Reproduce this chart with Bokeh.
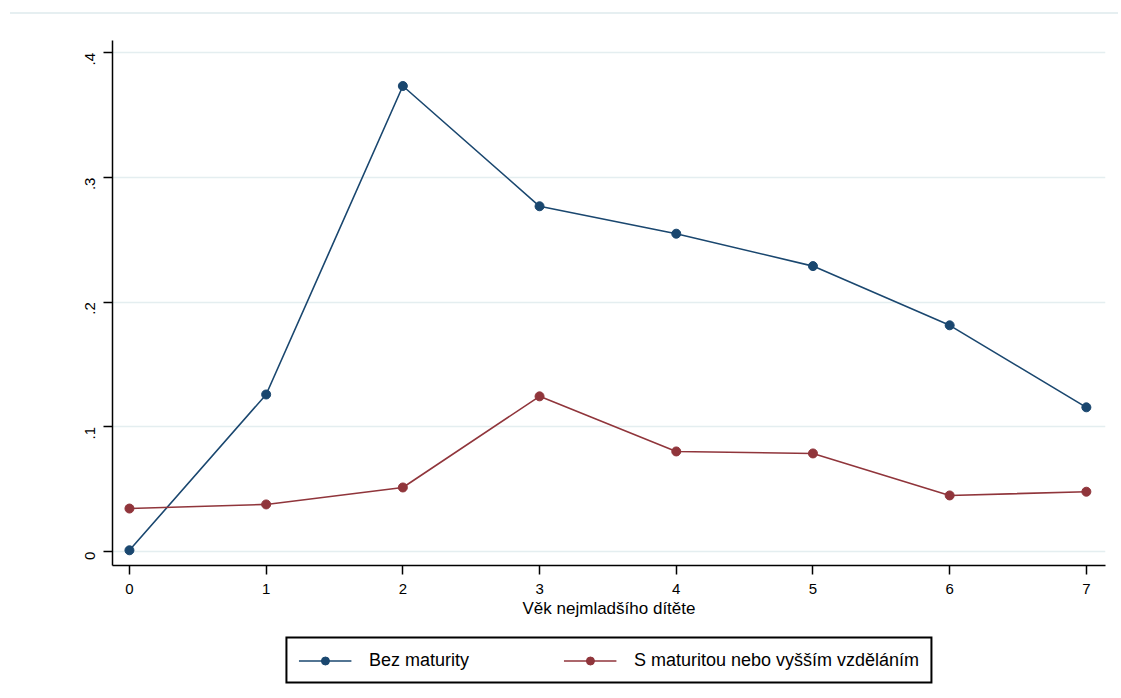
from bokeh.plotting import figure
from bokeh.layouts import column
from bokeh.models import Range1d, FixedTicker, Legend, LegendItem, CustomJSTickFormatter, Div
from bokeh.embed import file_html
from bokeh.resources import INLINE
import math

ages = [0, 1, 2, 3, 4, 5, 6, 7]
bez_maturity = [0.001, 0.126, 0.3735, 0.277, 0.255, 0.229, 0.1815, 0.1157]
s_maturitou = [0.0345, 0.0378, 0.0514, 0.1245, 0.0803, 0.0787, 0.045, 0.048]
y_ticks = [0, 0.1, 0.2, 0.3, 0.4]
x_label = "Věk nejmladšího dítěte"
series_names = ["Bez maturity", "S maturitou nebo vyšším vzděláním"]
colors = ["#1a476f", "#90353b"]

FONT = "Liberation Sans"
W = 1118

top_rule = Div(text="", width=1108, height=12, margin=(0, 0, 0, 10),
               styles={"border-bottom": "2px solid #e6eff1", "box-sizing": "content-box"})

p = figure(width=W, height=606, output_backend="svg", toolbar_location=None,
           x_range=Range1d(-0.124, 7.14), y_range=Range1d(-0.0112, 0.41),
           min_border_left=112, min_border_right=13, min_border_top=26, min_border_bottom=55)
p.outline_line_color = None
p.background_fill_color = "white"
p.border_fill_color = "white"

p.xgrid.grid_line_color = None
p.ygrid.grid_line_color = "#e4eef0"
p.ygrid.grid_line_width = 1.5
p.ygrid.ticker = FixedTicker(ticks=y_ticks)

p.xaxis.ticker = FixedTicker(ticks=ages)
p.yaxis.ticker = FixedTicker(ticks=y_ticks)
p.yaxis.formatter = CustomJSTickFormatter(code="""
if (Math.abs(tick) < 1e-9) return "0";
return "." + Math.round(tick*10).toString();
""")
p.yaxis.major_label_orientation = math.pi / 2

for ax in (p.xaxis[0], p.yaxis[0]):
    ax.axis_line_color = "black"
    ax.axis_line_width = 1.5
    ax.major_tick_line_color = "black"
    ax.major_tick_line_width = 1.5
    ax.major_tick_out = 9
    ax.major_tick_in = 0
    ax.minor_tick_line_color = None
    ax.major_label_text_font = FONT
    ax.major_label_text_font_size = "15px"
    ax.major_label_text_color = "black"
p.xaxis.major_label_standoff = 9
p.yaxis.major_label_standoff = 13

p.xaxis.axis_label = x_label
p.xaxis.axis_label_text_font = FONT
p.xaxis.axis_label_text_font_size = "17px"
p.xaxis.axis_label_text_font_style = "normal"
p.xaxis.axis_label_text_color = "black"
p.xaxis.axis_label_standoff = 2

for vals, col in zip([bez_maturity, s_maturitou], colors):
    p.line(ages, vals, line_color=col, line_width=1.6)
    p.scatter(ages, vals, size=9, fill_color=col, line_color=col)

# legend panel below the chart (key renderers hold no visible points)
q = figure(width=W, height=80, output_backend="svg", toolbar_location=None,
           x_axis_type=None, y_axis_type=None, x_range=Range1d(0, 1), y_range=Range1d(0, 1),
           min_border_left=0, min_border_right=0, min_border_top=0, min_border_bottom=0)
q.outline_line_color = None
q.xgrid.grid_line_color = None
q.ygrid.grid_line_color = None
nan = float("nan")
items = []
for name, col in zip(series_names, colors):
    lr = q.line(x=[nan, nan], y=[nan, nan], line_color=col, line_width=1.6)
    sr = q.scatter(x=[nan], y=[nan], size=9, fill_color=col, line_color=col)
    items.append(LegendItem(label=name, renderers=[lr, sr]))

legend = Legend(items=items, orientation="horizontal", location="center",
                border_line_color="black", border_line_width=2, border_line_alpha=1.0,
                label_text_font=FONT, label_text_font_size="18px",
                label_text_color="black",
                glyph_width=53, glyph_height=20, label_width=150,
                spacing=44, padding=11, margin=0,
                label_standoff=18, background_fill_alpha=1.0)
q.add_layout(legend, "center")

layout = column(top_rule, p, q, spacing=0)
open("out.html", "w").write(file_html(layout, INLINE))
